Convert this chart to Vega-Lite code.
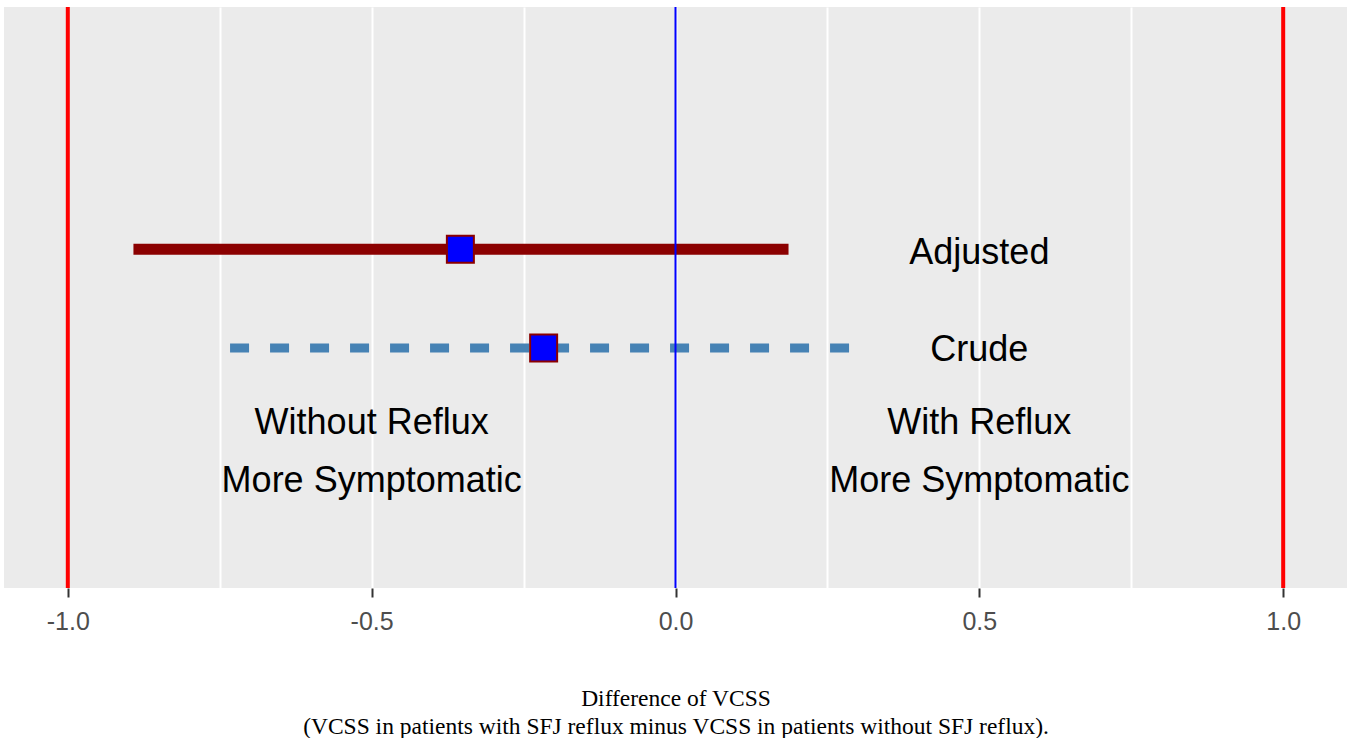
{
  "$schema": "https://vega.github.io/schema/vega-lite/v6.json",
  "width": 1343,
  "height": 581,
  "padding": {"left": 4, "top": 5, "right": 0, "bottom": 0},
  "background": "white",
  "config": {"view": {"fill": "#EBEBEB", "stroke": null}},
  "datasets": {
    "est": [
      {"model": "Adjusted", "est": -0.354, "lo": -0.892, "hi": 0.186, "row": 5.83},
      {"model": "Crude", "est": -0.217, "lo": -0.733, "hi": 0.29, "row": 4.13}
    ],
    "refs": [
      {"ref": -1, "kind": "limit"},
      {"ref": 1, "kind": "limit"},
      {"ref": 0, "kind": "null"}
    ],
    "labels": [
      {"text": "Adjusted", "x": 0.5, "row": 5.77},
      {"text": "Crude", "x": 0.5, "row": 4.1},
      {"text": "Without Reflux", "x": -0.5, "row": 2.84},
      {"text": "More Symptomatic", "x": -0.5, "row": 1.84},
      {"text": "With Reflux", "x": 0.5, "row": 2.84},
      {"text": "More Symptomatic", "x": 0.5, "row": 1.84}
    ]
  },
  "layer": [
    {
      "data": {"name": "refs"},
      "mark": {"type": "rule", "opacity": 0},
      "encoding": {
        "x": {
          "field": "ref", "type": "quantitative",
          "scale": {"domain": [-1.105, 1.105], "nice": false, "zero": false},
          "axis": {
            "values": [-1, -0.75, -0.5, -0.25, 0, 0.25, 0.5, 0.75, 1],
            "domain": false,
            "grid": true, "gridColor": "white", "gridWidth": 2, "gridOpacity": 1,
            "ticks": true, "tickSize": 9, "tickWidth": 2, "tickColor": "#333333",
            "tickOpacity": {"condition": {"test": "abs(datum.value*2 - round(datum.value*2)) > 0.001", "value": 0}, "value": 1},
            "labelExpr": "abs(datum.value*2 - round(datum.value*2)) < 0.001 ? (datum.value < 0 ? '-' : '') + format(abs(datum.value), '.1f') : ''",
            "labelFont": "Liberation Sans", "labelFontSize": 25, "labelColor": "#4D4D4D",
            "labelPadding": 12, "labelFlush": false,
            "title": ["Difference of VCSS", "(VCSS in patients with SFJ reflux minus VCSS in patients without SFJ reflux)."],
            "titleFont": "Liberation Serif", "titleFontSize": 23.5, "titleFontWeight": "normal",
            "titleColor": "black", "titlePadding": 52, "titleLineHeight": 28
          }
        },
        "y": {"datum": 0, "type": "quantitative", "scale": {"domain": [0, 10]}, "axis": null}
      }
    },
    {
      "data": {"name": "est"},
      "transform": [{"filter": "datum.model == 'Adjusted'"}],
      "mark": {"type": "rule", "color": "#8B0000", "strokeWidth": 11, "strokeCap": "butt"},
      "encoding": {
        "x": {"field": "lo", "type": "quantitative"},
        "x2": {"field": "hi"},
        "y": {"field": "row", "type": "quantitative"}
      }
    },
    {
      "data": {"name": "est"},
      "transform": [{"filter": "datum.model == 'Crude'"}],
      "mark": {"type": "rule", "color": "#4682B4", "strokeWidth": 9, "strokeCap": "butt", "strokeDash": [19, 21]},
      "encoding": {
        "x": {"field": "lo", "type": "quantitative"},
        "x2": {"field": "hi"},
        "y": {"field": "row", "type": "quantitative"}
      }
    },
    {
      "data": {"name": "refs"},
      "mark": {"type": "rule"},
      "encoding": {
        "x": {"field": "ref", "type": "quantitative"},
        "color": {"field": "kind", "type": "nominal", "scale": {"domain": ["limit", "null"], "range": ["#FF0000", "#0000FF"]}, "legend": null},
        "strokeWidth": {"field": "kind", "type": "nominal", "scale": {"domain": ["limit", "null"], "range": [4, 2]}, "legend": null}
      }
    },
    {
      "data": {"name": "est"},
      "mark": {"type": "point", "shape": "square", "filled": true, "fill": "#0000FF", "stroke": "#8B0000", "strokeWidth": 2, "size": 729, "opacity": 1},
      "encoding": {
        "x": {"field": "est", "type": "quantitative"},
        "y": {"field": "row", "type": "quantitative"}
      }
    },
    {
      "data": {"name": "labels"},
      "mark": {"type": "text", "font": "Liberation Sans", "fontSize": 36, "align": "center", "baseline": "middle", "color": "black"},
      "encoding": {
        "x": {"field": "x", "type": "quantitative"},
        "y": {"field": "row", "type": "quantitative"},
        "text": {"field": "text"}
      }
    }
  ]
}
